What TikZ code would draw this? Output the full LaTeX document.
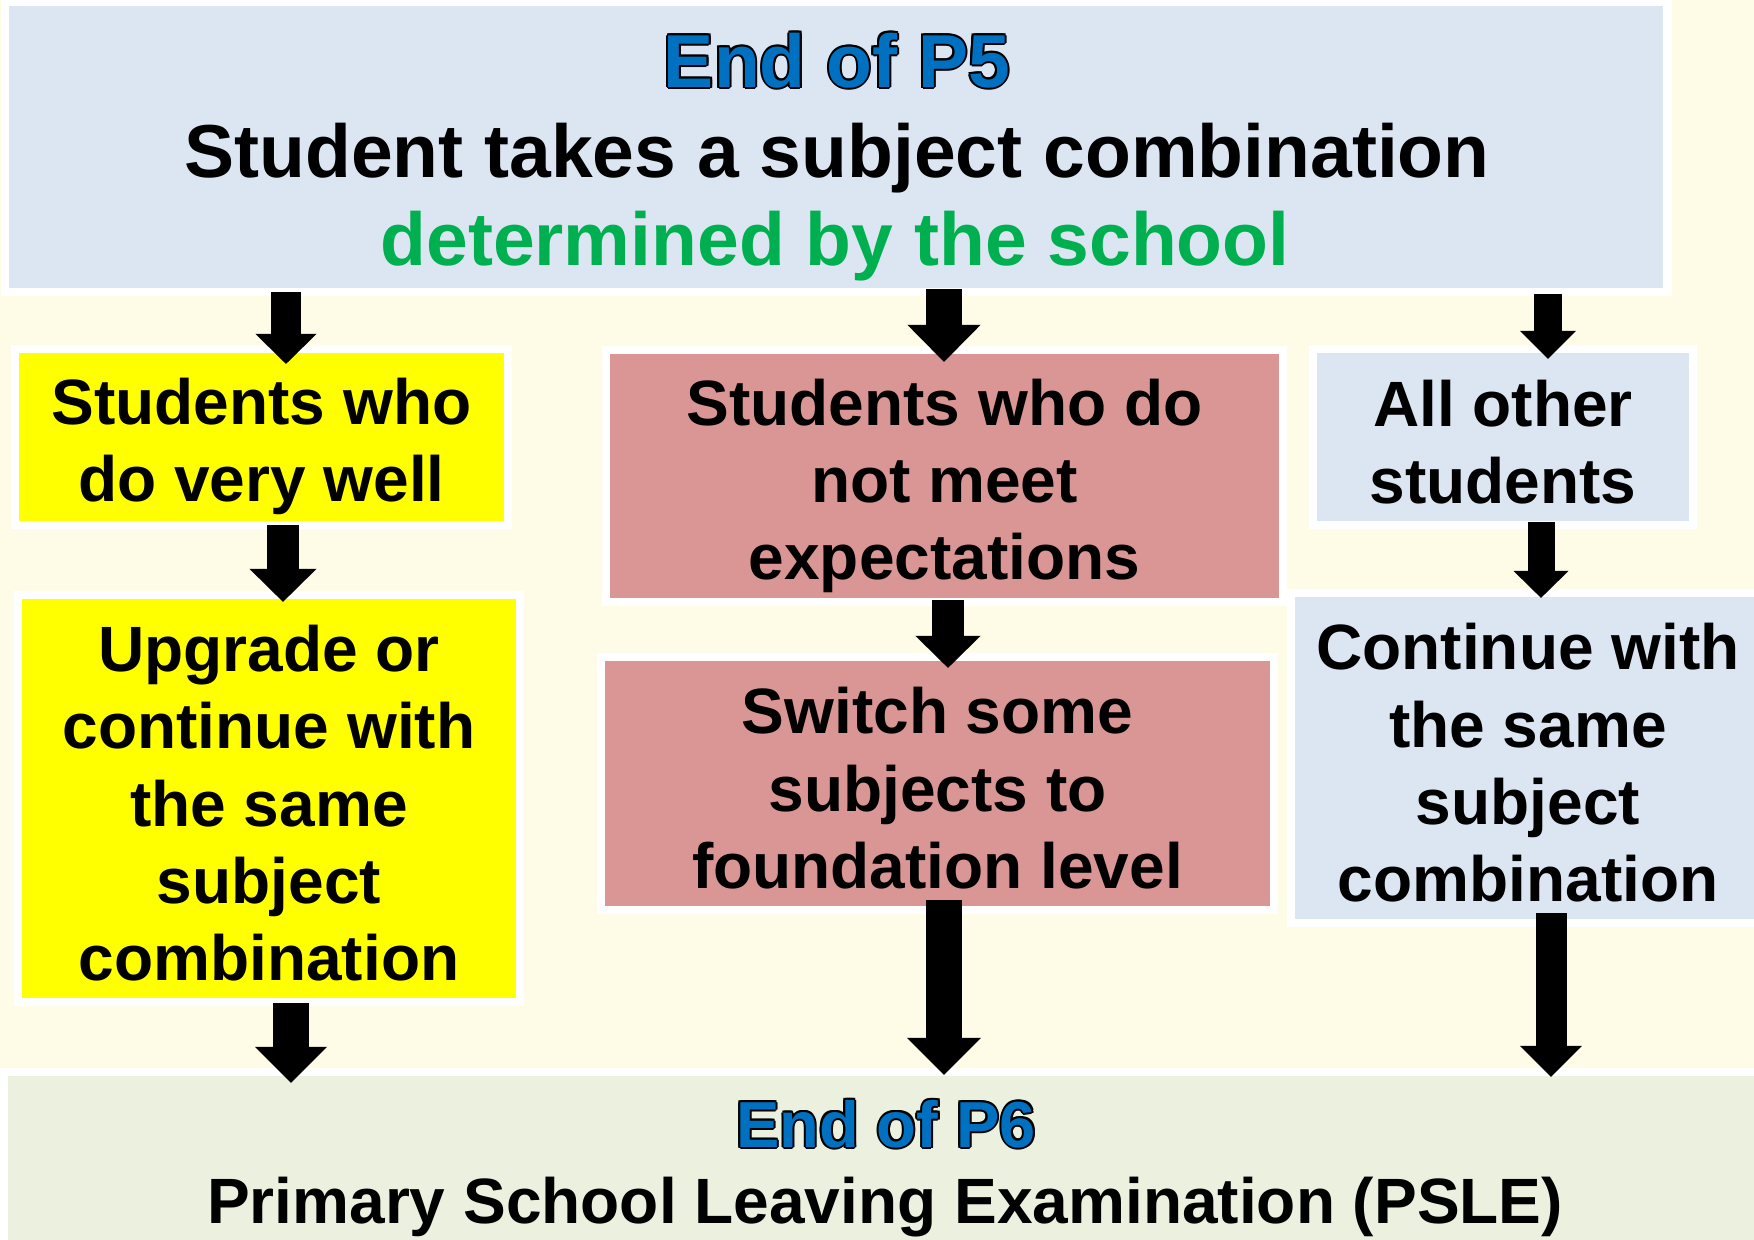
\documentclass[tikz,border=0pt]{standalone}
\usepackage{fontspec}
\setmainfont{Liberation Sans}
\usetikzlibrary{arrows.meta}
\definecolor{bgc}{RGB}{254,251,230}
\definecolor{hdblue}{RGB}{220,230,242}
\definecolor{ybox}{RGB}{255,255,0}
\definecolor{rbox}{RGB}{217,150,148}
\definecolor{gbox}{RGB}{235,241,222}
\definecolor{tgreen}{RGB}{0,176,80}
\definecolor{tblue}{RGB}{0,112,192}
\setlength{\lineskiplimit}{-10cm}
\newcommand\olt[2]{%
\rlap{\color{black}\kern0.02cm #2}%
\rlap{\color{black}\kern-0.02cm #2}%
\rlap{\color{black}\raisebox{0.02cm}{#2}}%
\rlap{\color{black}\raisebox{-0.02cm}{#2}}%
\rlap{\color{black}\kern0.014cm\raisebox{0.014cm}{#2}}%
\rlap{\color{black}\kern0.014cm\raisebox{-0.014cm}{#2}}%
\rlap{\color{black}\kern-0.014cm\raisebox{0.014cm}{#2}}%
\rlap{\color{black}\kern-0.014cm\raisebox{-0.014cm}{#2}}%
{\color{#1}#2}}
\newcommand\hs{\rule[-0.11cm]{0pt}{0.77cm}}
\begin{document}
\begin{tikzpicture}[x=0.01cm,y=-0.01cm,
  box/.style={draw=white,line width=0.08cm,inner sep=0pt,outer sep=0pt,align=center,
    font=\bfseries\fontsize{0.64cm}{0.77cm}\selectfont},
  ttl/.style={inner sep=0pt,anchor=base,font=\bfseries\fontsize{#1}{1.0cm}\selectfont},
  arr/.style n args={3}{line width=#1,-{Triangle[width=#2,length=#3,line width=0pt]}}]
\useasboundingbox (0,0) rectangle (1754,1239);
\clip (0,0) rectangle (1754,1239);
\fill[bgc] (0,0) rectangle (1754,1239);

\node[box,fill=hdblue,minimum width=16.62cm,minimum height=2.90cm] (top) at (836,147) {};
\node[box,fill=ybox,minimum width=4.93cm,minimum height=1.76cm] (yel1) at (261.5,437) {\hs Students who\\do very well\hs};
\node[box,fill=ybox,minimum width=5.02cm,minimum height=4.07cm] (yel2) at (269,798.5) {\hs Upgrade or\\continue with\\the same\\subject\\combination\hs};
\node[box,fill=rbox,minimum width=6.77cm,minimum height=2.52cm] (red1) at (944.5,476) {\hs Students who do\\not meet\\expectations\hs};
\node[box,fill=rbox,minimum width=6.73cm,minimum height=2.53cm] (red2) at (937.5,783.5) {\hs Switch some\\subjects to\\foundation level\hs};
\node[box,fill=hdblue,minimum width=3.80cm,minimum height=1.76cm] (blu1) at (1503,437) {\hs All other\\students\hs};
\node[box,fill=hdblue,minimum width=4.74cm,minimum height=3.30cm] (blu2) at (1528,758) {\hs Continue with\\the same\\subject\\combination\hs};
\node[box,fill=gbox,minimum width=17.60cm,minimum height=1.82cm] (bot) at (885,1163) {};

\node[ttl=0.75cm] (t5a) at (837,87) {\olt{tblue}{End of P5}};
\node[ttl=0.75cm] (t5b) at (837,177) {Student takes a subject combination};
\node[ttl=0.75cm,text=tgreen] (t5c) at (835,265) {determined by the school};
\node[ttl=0.65cm] (t6a) at (886,1147) {\olt{tblue}{End of P6}};
\node[ttl=0.64cm] (t6b) at (885,1223) {Primary School Leaving Examination (PSLE)};

\coordinate (xa1) at (286,0);
\coordinate (xa2) at (944,0);
\coordinate (xa3) at (1548,0);
\coordinate (xb1) at (283,0);
\coordinate (xb2) at (948,0);
\coordinate (xb3) at (1541,0);
\coordinate (xc1) at (291,0);
\coordinate (xc2) at (944,0);
\coordinate (xc3) at (1551,0);

\draw[arr={0.30cm}{0.61cm}{0.30cm},shorten >=-0.15cm] (top.south -| xa1) -- (yel1.north -| xa1);
\draw[arr={0.36cm}{0.73cm}{0.37cm},shorten <=-0.03cm,shorten >=-0.12cm] (top.south -| xa2) -- (red1.north -| xa2);
\draw[arr={0.28cm}{0.56cm}{0.28cm},shorten <=0.02cm,shorten >=-0.10cm] (top.south -| xa3) -- (blu1.north -| xa3);
\draw[arr={0.32cm}{0.67cm}{0.33cm},shorten >=-0.07cm] (yel1.south -| xb1) -- (yel2.north -| xb1);
\draw[arr={0.32cm}{0.65cm}{0.32cm},shorten <=-0.02cm,shorten >=-0.11cm] (red1.south -| xb2) -- (red2.north -| xb2);
\draw[arr={0.27cm}{0.55cm}{0.27cm},shorten <=-0.03cm,shorten >=-0.05cm] (blu1.south -| xb3) -- (blu2.north -| xb3);
\draw[arr={0.36cm}{0.72cm}{0.36cm},shorten <=0.01cm,shorten >=-0.11cm] (yel2.south -| xc1) -- (bot.north -| xc1);
\draw[arr={0.36cm}{0.74cm}{0.37cm},shorten <=-0.10cm,shorten >=-0.03cm] (red2.south -| xc2) -- (bot.north -| xc2);
\draw[arr={0.31cm}{0.62cm}{0.31cm},shorten <=-0.10cm,shorten >=-0.05cm] (blu2.south -| xc3) -- (bot.north -| xc3);
\end{tikzpicture}
\end{document}
